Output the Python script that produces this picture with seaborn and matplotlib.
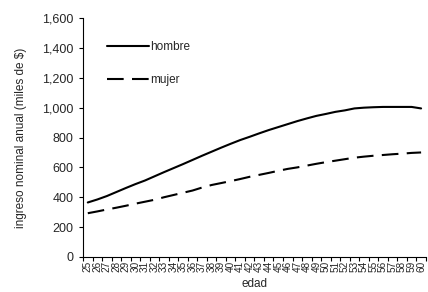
import seaborn as sns
import matplotlib.pyplot as plt
import matplotlib.ticker as mticker
import pandas as pd
import numpy as np

sns.set_style("white")
plt.rcParams['font.family'] = ['Liberation Sans', 'DejaVu Sans']

# Datos
edad = list(range(25, 61))
hombre = [365, 385, 408, 435, 462, 488, 512, 540, 568, 595, 622, 650,
          678, 705, 732, 758, 783, 805, 828, 850, 870, 890, 910, 928,
          945, 958, 972, 982, 995, 1000, 1003, 1005, 1005, 1005, 1005, 995]
mujer = [293, 305, 318, 330, 343, 357, 370, 383, 400, 415, 430, 445,
         465, 482, 495, 508, 522, 537, 550, 563, 577, 590, 600, 612,
         624, 635, 645, 655, 665, 672, 678, 683, 688, 692, 697, 700]

df = pd.DataFrame({
    'edad': edad * 2,
    'ingreso': hombre + mujer,
    'sexo': ['hombre'] * len(edad) + ['mujer'] * len(edad),
})

fig = plt.figure(figsize=(4.28, 2.92), dpi=100)
ax = fig.add_axes([0.194, 0.12, 0.801, 0.818])

sns.lineplot(data=df, x='edad', y='ingreso', style='sexo',
             dashes={'hombre': '', 'mujer': (8, 4)},
             color='black', linewidth=1.5, ax=ax)

ax.set_xlim(24.5, 60.5)
ax.set_ylim(0, 1600)
ax.set_xticks(edad)
ax.set_xticklabels([str(e) for e in edad], rotation=90, fontsize=7.2)
ax.xaxis.set_minor_locator(mticker.FixedLocator(np.arange(24.5, 61, 1)))
ax.tick_params(axis='x', which='major', length=0, pad=3)
ax.tick_params(axis='x', which='minor', length=3, width=0.8, color='black', bottom=True)
ax.set_yticks(range(0, 1601, 200))
ax.yaxis.set_major_formatter(mticker.FuncFormatter(lambda v, p: f'{int(v):,}'))
ax.tick_params(axis='y', length=3, width=0.8, color='black', left=True, labelsize=9, pad=4)

for s in ['top', 'right']:
    ax.spines[s].set_visible(False)
for s in ['left', 'bottom']:
    ax.spines[s].set_color('black')
    ax.spines[s].set_linewidth(0.8)

ax.set_xlabel('edad', fontsize=8.5, labelpad=4)
ax.set_ylabel('ingreso nominal anual (miles de $)', fontsize=8.5, labelpad=11)

handles, labels = ax.get_legend_handles_labels()
keep = [(h, l) for h, l in zip(handles, labels) if l in ('hombre', 'mujer')]
ax.legend([h for h, l in keep], [l for h, l in keep],
          loc='upper left', bbox_to_anchor=(0.04, 0.95), frameon=False,
          fontsize=8.5, handlelength=3.5, handletextpad=0.15,
          labelspacing=1.8)

fig.savefig('out.png', dpi=100)
